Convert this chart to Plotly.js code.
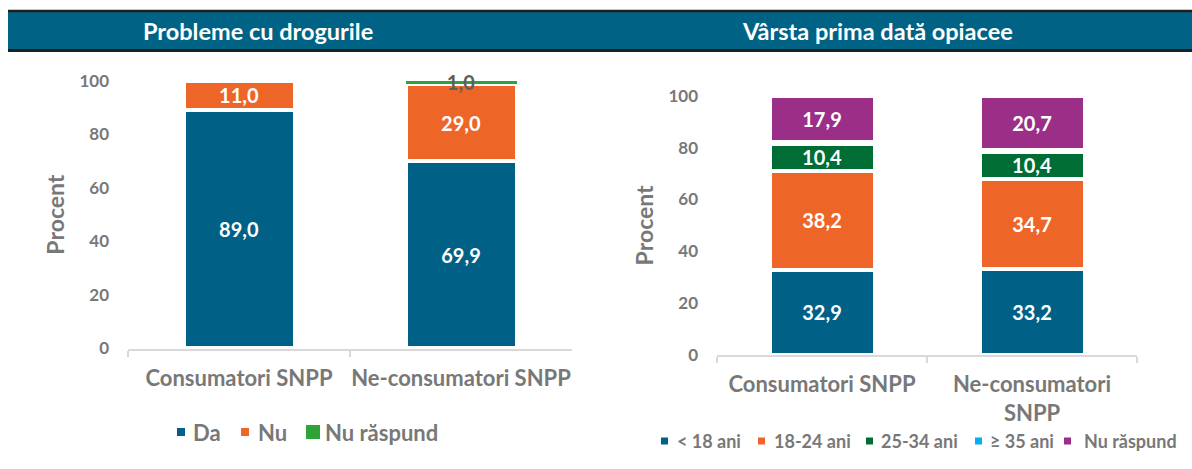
<!DOCTYPE html>
<html>
<head>
<meta charset="utf-8">
<script src="https://cdn.plot.ly/plotly-3.0.1.min.js"></script>
<style>
  html, body { margin: 0; padding: 0; background: #ffffff; }
  #chart { width: 1192px; height: 469px; }
</style>
</head>
<body>
<div id="chart"></div>
<script>
// ---------- data ----------
const leftTitle = 'Probleme cu drogurile';
const rightTitle = 'Vârsta prima dată opiacee';
const yTitle = 'Procent';

const leftCategories = ['Consumatori SNPP', 'Ne-consumatori SNPP'];
const leftSeriesNames = ['Da', 'Nu', 'Nu răspund'];
const leftDa = [89.0, 69.9];
const leftNu = [11.0, 29.0];
const leftNuRaspund = [0.0, 1.0];

const rightCategories = ['Consumatori SNPP', 'Ne-consumatori<br>SNPP'];
const rightSeriesNames = ['< 18 ani', '18-24 ani', '25-34 ani', '≥ 35 ani', 'Nu răspund'];
const rightUnder18 = [32.9, 33.2];
const right18to24 = [38.2, 34.7];
const right25to34 = [10.4, 10.4];
const right35plus = [0.6, 0.9];
const rightNuRaspund = [17.9, 20.7];

const yTickValues = [0, 20, 40, 60, 80, 100];

// ---------- styles ----------
const W = 1192, H = 469;
const FONT = 'Lato, "Open Sans", "DejaVu Sans", sans-serif';
const GREY = '#787878';
const C = {
  blue: '#006085', orange: '#ED6628', green: '#2EA33A',
  dkgreen: '#006D35', ltblue: '#00B0F0', purple: '#9B2F88',
  banner: '#006385'
};
const px = x => x / W;
const py = y => 1 - y / H;
const fmt = v => (v > 0 ? v.toFixed(1).replace('.', ',') : '');

function seg(x, y, name, color, xa, ya, opts) {
  opts = opts || {};
  return {
    type: 'bar', x: x, y: y, name: name, xaxis: xa, yaxis: ya,
    width: 0.5,
    marker: { color: color, line: { color: opts.lineColor || '#ffffff', width: opts.lineWidth === undefined ? 4 : opts.lineWidth } },
    text: opts.noText ? y.map(() => '') : y.map(fmt),
    textposition: 'inside', insidetextanchor: 'middle', textangle: 0,
    constraintext: 'none',
    textfont: { family: FONT, size: 20, weight: 700, color: opts.textColor || '#ffffff' },
    hoverinfo: 'x+y+name',
    showlegend: false, cliponaxis: false
  };
}

const traces = [
  seg(leftCategories, leftDa, leftSeriesNames[0], C.blue, 'x', 'y'),
  seg(leftCategories, leftNu, leftSeriesNames[1], C.orange, 'x', 'y'),
  seg(leftCategories, leftNuRaspund, leftSeriesNames[2], C.green, 'x', 'y',
      { lineColor: C.green, lineWidth: 0, textColor: '#5f5f5f' }),
  seg(rightCategories, rightUnder18, rightSeriesNames[0], C.blue, 'x2', 'y2'),
  seg(rightCategories, right18to24, rightSeriesNames[1], C.orange, 'x2', 'y2'),
  seg(rightCategories, right25to34, rightSeriesNames[2], C.dkgreen, 'x2', 'y2'),
  seg(rightCategories, right35plus, rightSeriesNames[3], C.ltblue, 'x2', 'y2', { noText: true }),
  seg(rightCategories, rightNuRaspund, rightSeriesNames[4], C.purple, 'x2', 'y2')
];

function xAxis(domain, anchor) {
  return {
    domain: domain, anchor: anchor, type: 'category', range: [-0.5, 1.5],
    showline: true, linecolor: '#d9d9d9', linewidth: 2,
    ticks: 'outside', tickson: 'boundaries', ticklen: 6, tickwidth: 2, tickcolor: '#d9d9d9',
    ticklabelstandoff: 9, tickangle: 0,
    tickfont: { family: FONT, size: 22, weight: 700, color: GREY },
    showgrid: false, zeroline: false, fixedrange: true
  };
}
function yAxis(domain, anchor) {
  return {
    domain: domain, anchor: anchor, range: [0, 100.02],
    tickvals: yTickValues, ticktext: yTickValues.map(String),
    showgrid: false, zeroline: false, showline: false, ticks: '',
    ticklabelstandoff: 18,
    tickfont: { family: FONT, size: 17, weight: 700, color: GREY },
    title: { text: yTitle, font: { family: FONT, size: 23, weight: 700, color: GREY }, standoff: 8 },
    fixedrange: true
  };
}

// banner + legend shapes
const shapes = [
  { type: 'rect', xref: 'paper', yref: 'paper', x0: px(8), x1: px(1192), y0: py(50), y1: py(11),
    fillcolor: C.banner, line: { width: 0 }, layer: 'below' },
  { type: 'line', xref: 'paper', yref: 'paper', x0: px(8), x1: px(1192), y0: py(11), y1: py(11),
    line: { color: '#1e1e1e', width: 2.5 } },
  { type: 'line', xref: 'paper', yref: 'paper', x0: px(8), x1: px(1192), y0: py(50.5), y1: py(50.5),
    line: { color: '#1e1e1e', width: 3 } }
];
const annotations = [
  { text: leftTitle, xref: 'paper', yref: 'paper', x: px(258), y: py(30.5), showarrow: false,
    xanchor: 'center', yanchor: 'middle', font: { family: FONT, size: 23.5, weight: 700, color: '#ffffff' } },
  { text: rightTitle, xref: 'paper', yref: 'paper', x: px(877), y: py(30.5), showarrow: false,
    xanchor: 'center', yanchor: 'middle', font: { family: FONT, size: 23.5, weight: 700, color: '#ffffff' } }
];

// legends (layout positions)
const leftLegend = {
  y: 432, size: 22,
  colors: [C.blue, C.orange, C.green],
  markerX: [177, 241, 306], markerSize: [8, 8, 14], textX: [193, 258, 325]
};
const rightLegend = {
  y: 441, size: 18,
  colors: [C.blue, C.orange, C.dkgreen, C.ltblue, C.purple],
  markerX: [661, 758, 866, 975, 1064], markerSize: [7, 7, 7, 7, 7], textX: [677, 774, 881, 990, 1084]
};
function addLegend(names, lg) {
  names.forEach((n, i) => {
    const s = lg.markerSize[i];
    shapes.push({ type: 'rect', xref: 'paper', yref: 'paper',
      x0: px(lg.markerX[i]), x1: px(lg.markerX[i] + s),
      y0: py(lg.y + s / 2), y1: py(lg.y - s / 2),
      fillcolor: lg.colors[i], line: { width: 0 } });
    annotations.push({ text: n, xref: 'paper', yref: 'paper', x: px(lg.textX[i]), y: py(lg.y),
      xanchor: 'left', yanchor: 'middle', showarrow: false, xshift: -2,
      font: { family: FONT, size: lg.size, weight: 700, color: GREY } });
  });
}
addLegend(leftSeriesNames, leftLegend);
addLegend(rightSeriesNames, rightLegend);

const layout = {
  width: W, height: H,
  margin: { l: 0, r: 0, t: 0, b: 0, pad: 0 },
  paper_bgcolor: '#ffffff', plot_bgcolor: '#ffffff',
  barmode: 'stack', showlegend: false,
  xaxis: xAxis([px(128), px(572)], 'y'),
  yaxis: yAxis([py(348.5), py(80.7)], 'x'),
  xaxis2: xAxis([px(717), px(1137)], 'y2'),
  yaxis2: yAxis([py(355), py(95.7)], 'x2'),
  shapes: shapes,
  annotations: annotations,
  font: { family: FONT, color: GREY }
};

Plotly.newPlot('chart', traces, layout, { displayModeBar: false, staticPlot: true });
</script>
</body>
</html>
